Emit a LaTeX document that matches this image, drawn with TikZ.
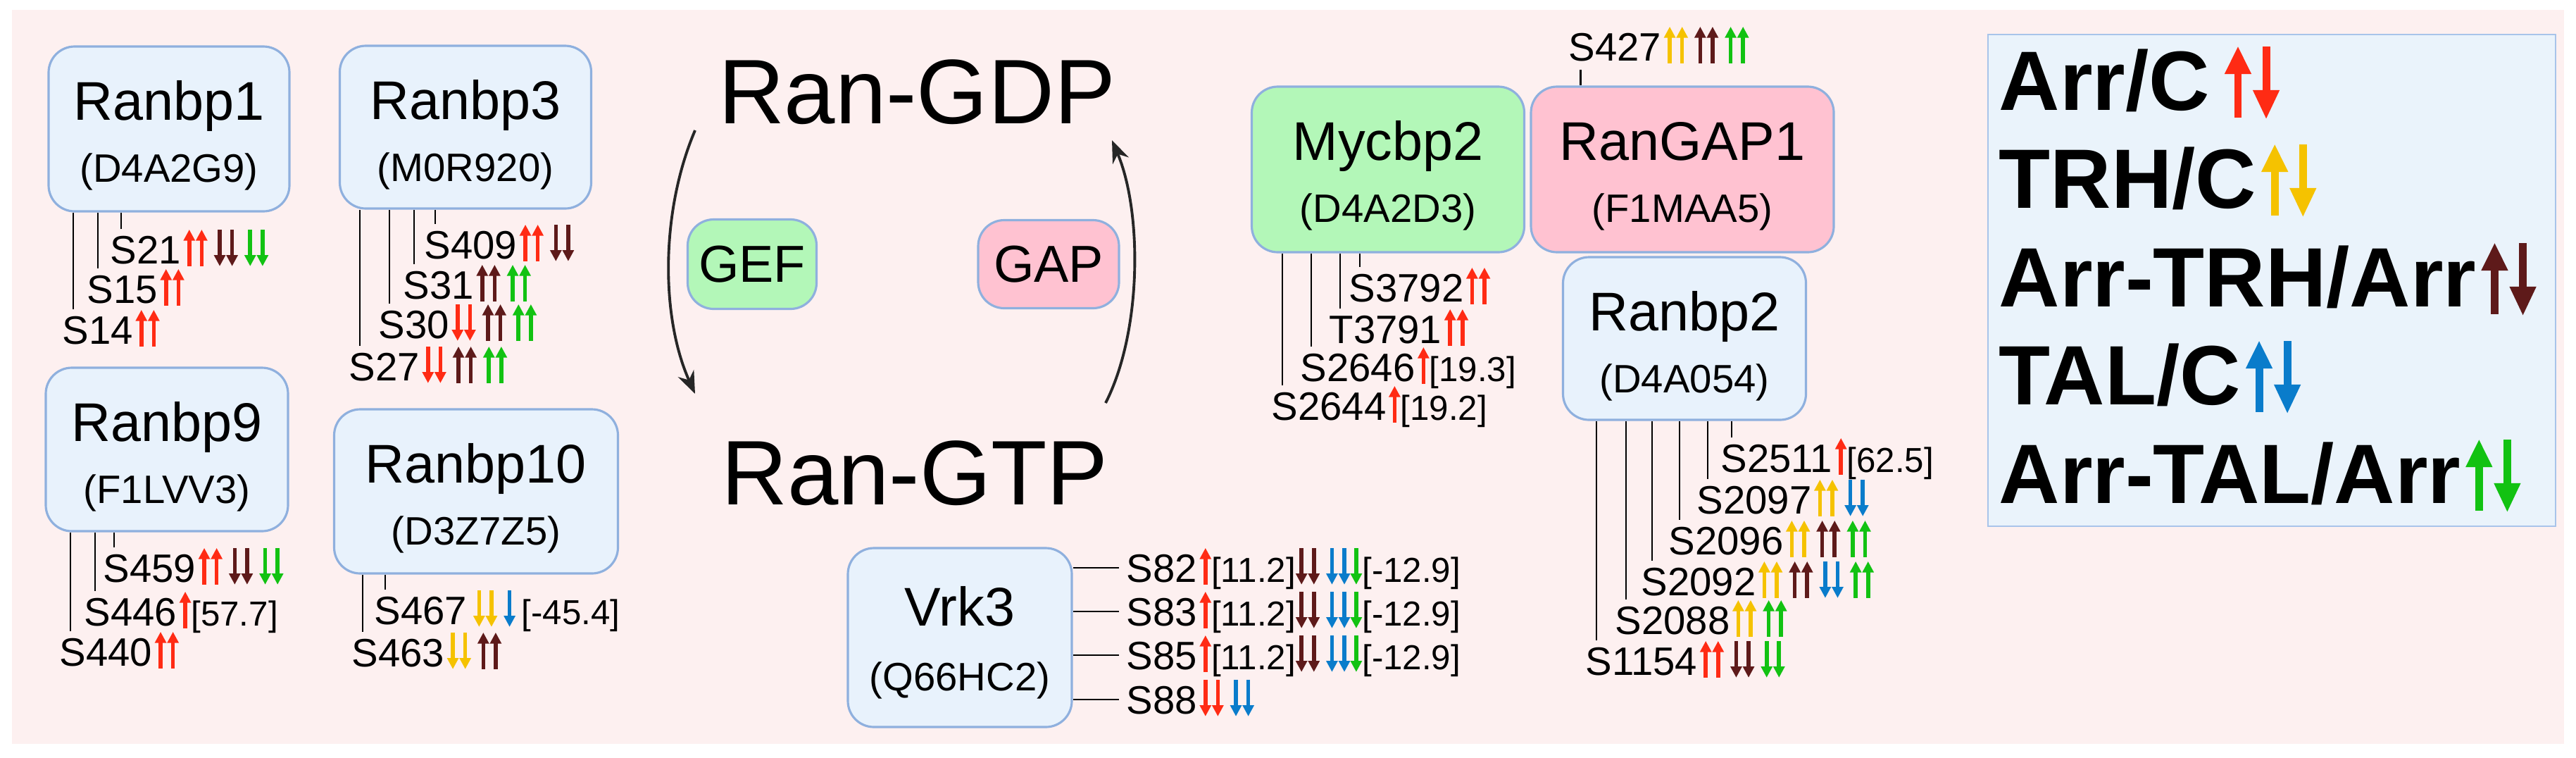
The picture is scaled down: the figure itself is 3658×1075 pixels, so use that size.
\documentclass[tikz,border=0pt]{standalone}
\usepackage{fontspec}
\setmainfont{Liberation Sans}
\usetikzlibrary{arrows.meta}
\definecolor{bgpink}{HTML}{FDF0F0}
\definecolor{boxblue}{HTML}{E8F2FC}
\definecolor{bord}{HTML}{8FB0DE}
\definecolor{boxgreen}{HTML}{B3F7B8}
\definecolor{boxpink}{HTML}{FFC2D1}
\definecolor{legfill}{HTML}{EAF3FB}
\definecolor{legbord}{HTML}{A8C4EA}
\definecolor{cr}{HTML}{FF2B14}
\definecolor{cy}{HTML}{F5C200}
\definecolor{cb}{HTML}{5E1A1A}
\definecolor{cl}{HTML}{0A7CCB}
\definecolor{cg}{HTML}{12C212}
% small arrows
\newcommand\aU[2]{\fill[#1] ({#2-0.8},-1) rectangle ({#2+0.8},9.6); \fill[#1] ({#2-2.4},9.2)--({#2+2.4},9.2)--(#2,13.6)--cycle;}
\newcommand\aD[2]{\fill[#1] ({#2-0.8},13.6) rectangle ({#2+0.8},3); \fill[#1] ({#2-2.4},3.4)--({#2+2.4},3.4)--(#2,-1)--cycle;}
\newcommand\UU[1]{\tikz[x=1pt,y=1pt,baseline=0pt]{\aU{#1}{2.4}\aU{#1}{7.4}}}
\newcommand\DD[1]{\tikz[x=1pt,y=1pt,baseline=0pt]{\aD{#1}{2.4}\aD{#1}{7.4}}}
\newcommand\Ua[1]{\tikz[x=1pt,y=1pt,baseline=0pt]{\aU{#1}{2.4}}}
\newcommand\Da[1]{\tikz[x=1pt,y=1pt,baseline=0pt]{\aD{#1}{2.4}}}
\newcommand\br[1]{{\fontsize{14}{14}\selectfont[#1]}}
\newcommand\g{\hspace{2.5pt}}
% legend arrows
\newcommand\LUD[1]{\tikz[x=1pt,y=1pt,baseline=0pt]{%
 \fill[#1] (3.9,-3) rectangle (7.0,15); \fill[#1] (0,14.5)--(10.9,14.5)--(5.45,25.5)--cycle;
 \fill[#1] (15.3,25.5) rectangle (18.4,7.5); \fill[#1] (11.4,8)--(22.3,8)--(16.85,-3.5)--cycle;}}
\tikzset{
 box/.style={draw=bord,line width=0.9pt,rounded corners=10.5pt,inner sep=0pt},
 ttl/.style={anchor=base,inner sep=0pt,font=\fontsize{22}{22}\selectfont},
 sub/.style={anchor=base,inner sep=0pt,font=\fontsize{16}{16}\selectfont},
 site/.style={anchor=base west,inner sep=0pt,font=\fontsize{16}{16}\selectfont},
 stem/.style={line width=0.7pt,black},
 big/.style={anchor=base,inner sep=0pt,font=\fontsize{37}{37}\selectfont},
 leg/.style={anchor=base west,inner sep=0pt,font=\fontsize{34}{34}\selectfont\bfseries},
 cyc/.style={line width=1.1pt,black!85,-{Stealth[length=9pt,width=7pt]}},
}
\newcommand\prot[8]{% id, cx, top, w, h, title, sub, fill
 \node[box,fill=#8,minimum width={#4*0.01cm},minimum height={#5*0.01cm}] (#1) at ({#2},{#3+#5/2}) {};
 \node[ttl] (#1T) at ({#2},{#3+104}) {#6};
 \node[sub] (#1S) at ({#2},{#3+192}) {#7};}
\newcommand\site[5]{%
 \node[site] (#1) at (#3,#4) {#5};
 \coordinate (#1t) at ([xshift=4.5pt,yshift=14pt]#1.base west);
 \draw[stem] (#1t) -- (#1t |- #2.south);}
\newcommand\vsite[3]{%
 \node[site] (#1) at (1599,#2) {#3};
 \coordinate (#1c) at ([xshift=-2.8pt,yshift=5.7pt]#1.base west);
 \draw[stem] (#1c) -- (#1c -| vrk.east);}
\begin{document}
\begin{tikzpicture}[x=0.01cm,y=-0.01cm]
\useasboundingbox (0,0) rectangle (3658,1075);
\fill[bgpink] (17,14) rectangle (3641,1056);

% Ranbp1
\prot{rb1}{240}{66}{342}{234}{Ranbp1}{(D4A2G9)}{boxblue}
\site{s21}{rb1}{156}{374}{S21\hspace{1pt}\UU{cr}\g\DD{cb}\g\DD{cg}}
\site{s15}{rb1}{123}{430}{S15\hspace{1pt}\UU{cr}}
\site{s14}{rb1}{88}{488}{S14\hspace{1pt}\UU{cr}}
% Ranbp3
\prot{rb3}{661}{65}{357}{231}{Ranbp3}{(M0R920)}{boxblue}
\site{s409}{rb3}{602}{367}{S409\hspace{1pt}\UU{cr}\g\DD{cb}}
\site{s31}{rb3}{572}{424}{S31\hspace{1pt}\UU{cb}\g\UU{cg}}
\site{s30}{rb3}{537}{480}{S30\hspace{1pt}\DD{cr}\g\UU{cb}\g\UU{cg}}
\site{s27}{rb3}{495}{540}{S27\hspace{1pt}\DD{cr}\g\UU{cb}\g\UU{cg}}
% Ranbp9
\prot{rb9}{237}{522}{344}{232}{Ranbp9}{(F1LVV3)}{boxblue}
\site{s459}{rb9}{146}{826}{S459\hspace{1pt}\UU{cr}\g\DD{cb}\g\DD{cg}}
\site{s446}{rb9}{119}{888}{S446\hspace{1pt}\Ua{cr}\br{57.7}}
\site{s440}{rb9}{84}{945}{S440\hspace{1pt}\UU{cr}}
% Ranbp10
\prot{rb10}{676}{581}{403}{233}{Ranbp10}{(D3Z7Z5)}{boxblue}
\site{s467}{rb10}{531}{886}{S467\g\DD{cy}\g\Da{cl}\g\br{-45.4}}
\site{s463}{rb10}{499}{946}{S463\hspace{1pt}\DD{cy}\g\UU{cb}}

% Ran cycle
\node[big] (gdp) at (1302,175) {Ran-GDP};
\node[big] (gtp) at (1299,716) {Ran-GTP};
\node[box,fill=boxgreen,minimum width={183*0.01cm},minimum height={127*0.01cm},font=\fontsize{21}{21}\selectfont] (gef) at (1068,375) {GEF};
\node[box,fill=boxpink,minimum width={200*0.01cm},minimum height={125*0.01cm},font=\fontsize{21}{21}\selectfont] (gap) at (1489,375) {GAP};
\coordinate (c1) at (987,185); \coordinate (c2) at (987,559);
\coordinate (c3) at (1570,572); \coordinate (c4) at (1579,199);
\draw[cyc] (c1) .. controls (938,300) and (938,450) .. (c2);
\draw[cyc] (c3) .. controls (1622,470) and (1622,300) .. (c4);

% Mycbp2
\prot{myc}{1971}{123}{387}{235}{Mycbp2}{(D4A2D3)}{boxgreen}
\site{s3792}{myc}{1915}{428}{S3792\hspace{1pt}\UU{cr}}
\site{t3791}{myc}{1887}{487}{T3791\hspace{1pt}\UU{cr}}
\site{s2646}{myc}{1846}{541}{S2646\hspace{1pt}\Ua{cr}\br{19.3}}
\site{s2644}{myc}{1805}{596}{S2644\hspace{1pt}\Ua{cr}\br{19.2}}
% RanGAP1
\prot{gap1}{2389}{123}{430}{235}{RanGAP1}{(F1MAA5)}{boxpink}
\node[site] (s427) at (2227,86) {S427\hspace{1pt}\UU{cy}\g\UU{cb}\g\UU{cg}};
\coordinate (s427c) at ([xshift=5pt,yshift=-3.7pt]s427.base west);
\draw[stem] (s427c) -- (s427c |- gap1.north);
% Ranbp2
\prot{rb2}{2392}{365}{345}{231}{Ranbp2}{(D4A054)}{boxblue}
\site{s2511}{rb2}{2443}{670}{S2511\hspace{1pt}\Ua{cr}\br{62.5}}
\site{s2097}{rb2}{2409}{729}{S2097\hspace{1pt}\UU{cy}\g\DD{cl}}
\site{s2096}{rb2}{2369}{787}{S2096\hspace{1pt}\UU{cy}\g\UU{cb}\g\UU{cg}}
\site{s2092}{rb2}{2330}{845}{S2092\hspace{1pt}\UU{cy}\g\UU{cb}\g\DD{cl}\g\UU{cg}}
\site{s2088}{rb2}{2293}{900}{S2088\hspace{1pt}\UU{cy}\g\UU{cg}}
\site{s1154}{rb2}{2251}{958}{S1154\hspace{1pt}\UU{cr}\g\DD{cb}\g\DD{cg}}

% Vrk3
\node[box,fill=boxblue,minimum width={318*0.01cm},minimum height={254*0.01cm}] (vrk) at (1363,905) {};
\node[ttl] (vrkT) at (1363,888) {Vrk3};
\node[sub] (vrkS) at (1363,980) {(Q66HC2)};
\vsite{s82}{826}{S82\hspace{1pt}\Ua{cr}\br{11.2}\DD{cb}\g\DD{cl}\Da{cg}\br{-12.9}}
\vsite{s83}{888}{S83\hspace{1pt}\Ua{cr}\br{11.2}\DD{cb}\g\DD{cl}\Da{cg}\br{-12.9}}
\vsite{s85}{950}{S85\hspace{1pt}\Ua{cr}\br{11.2}\DD{cb}\g\DD{cl}\Da{cg}\br{-12.9}}
\vsite{s88}{1013}{S88\hspace{1pt}\DD{cr}\g\DD{cl}}

% Legend
\node[draw=legbord,fill=legfill,line width=0.8pt,inner sep=0pt,minimum width={806*0.01cm},minimum height={698*0.01cm}] (legend) at (3226,398) {};
\node[leg] (l1) at (2838,156) {Arr/C\hspace{6pt}\LUD{cr}};
\node[leg] (l2) at (2838,295) {TRH/C\hspace{2pt}\LUD{cy}};
\node[leg] (l3) at (2838,435) {Arr-TRH/Arr\hspace{2pt}\LUD{cb}};
\node[leg] (l4) at (2838,574) {TAL/C\hspace{2pt}\LUD{cl}};
\node[leg] (l5) at (2838,714) {Arr-TAL/Arr\hspace{2pt}\LUD{cg}};
\end{tikzpicture}
\end{document}
